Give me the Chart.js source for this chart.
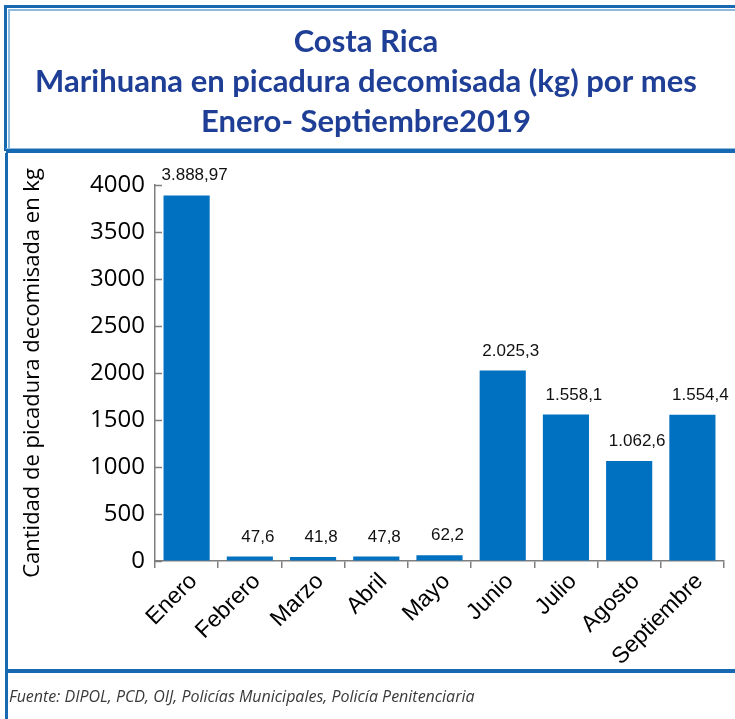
<!DOCTYPE html>
<html>
<head>
<meta charset="utf-8">
<script src="https://cdn.jsdelivr.net/npm/chart.js@4/dist/chart.umd.min.js"></script>
<style>
  html, body { margin: 0; padding: 0; background: #fff; }
  #wrap { width: 735px; height: 719px; }
</style>
</head>
<body>
<div id="wrap"><canvas id="grafico" width="735" height="719"></canvas></div>
<script>
// Datos del grafico
const meses = ['Enero', 'Febrero', 'Marzo', 'Abril', 'Mayo', 'Junio', 'Julio', 'Agosto', 'Septiembre'];
const kilos = [3888.97, 47.6, 41.8, 47.8, 62.2, 2025.3, 1558.1, 1062.6, 1554.4];
const yMin = 0;
const yMax = 4000;
const yPaso = 500;

const titulo = ['Costa Rica', 'Marihuana en picadura decomisada (kg) por mes', 'Enero- Septiembre2019'];
const tituloEjeY = 'Cantidad de picadura decomisada en kg';
const fuente = 'Fuente: DIPOL, PCD, OIJ, Policías Municipales, Policía Penitenciaria';

const azulOscuro = '#1769b1';
const azulClaro = '#8dbbe0';

// 3888.97 -> "3.888,97"
function formato(v) {
    const partes = String(v).split('.');
    const entero = partes[0].replace(/\B(?=(\d{3})+(?!\d))/g, '.');
    return partes.length > 1 ? entero + ',' + partes[1] : entero;
}

// marco azul alrededor del titulo y del grafico
const marco = {
    id: 'marco',
    beforeDraw(chart) {
        const ctx = chart.ctx;
        const w = chart.width, h = chart.height;
        ctx.save();
        ctx.fillStyle = '#fff';
        ctx.fillRect(0, 0, w, h);
        // caja del titulo
        ctx.fillStyle = azulOscuro;
        ctx.fillRect(4, 5, w - 4, 3);
        ctx.fillRect(4, 5, 3, 146);
        ctx.fillStyle = azulClaro;
        ctx.fillRect(8, 9, w - 8, 2);
        ctx.fillRect(8, 9, 2, 139);
        ctx.fillRect(6, 148, w - 6, 1);
        ctx.fillStyle = azulOscuro;
        ctx.fillRect(6, 149, w - 6, 4);
        // linea izquierda y separador de la fuente
        ctx.fillRect(5, 153, 3, h - 153);
        ctx.fillRect(5, 669, w - 5, 4);
        ctx.restore();
    }
};

// marcas del eje Y hacia adentro, etiquetas de valor y fuente
const extras = {
    id: 'extras',
    afterDatasetsDraw(chart) {
        const ctx = chart.ctx;
        const meta = chart.getDatasetMeta(0);
        ctx.save();
        ctx.font = '17px "Liberation Sans", Arial, sans-serif';
        ctx.fillStyle = '#111';
        ctx.textAlign = 'center';
        ctx.textBaseline = 'alphabetic';
        meta.data.forEach((bar, i) => {
            ctx.fillText(formato(kilos[i]), bar.x + 8, bar.y - 15);
        });
        ctx.restore();
    },
    afterDraw(chart) {
        const ctx = chart.ctx;
        const y = chart.scales.y;
        ctx.save();
        ctx.strokeStyle = '#7f7f7f';
        ctx.lineWidth = 1.5;
        y.ticks.forEach(t => {
            const py = Math.round(y.getPixelForValue(t.value)) + 0.5;
            ctx.beginPath();
            ctx.moveTo(y.right, py);
            ctx.lineTo(y.right + 7, py);
            ctx.stroke();
        });
        ctx.font = 'italic 16px "Open Sans", sans-serif';
        ctx.fillStyle = '#3a3a3a';
        ctx.textAlign = 'left';
        ctx.textBaseline = 'middle';
        ctx.fillText(fuente, 9, 697);
        ctx.restore();
    }
};

new Chart(document.getElementById('grafico'), {
    type: 'bar',
    data: {
        labels: meses,
        datasets: [{
            data: kilos,
            backgroundColor: '#0070c0',
            borderWidth: 0,
            barPercentage: 0.73,
            categoryPercentage: 1
        }]
    },
    options: {
        responsive: false,
        animation: false,
        layout: { padding: { left: 8, right: 11, top: 0, bottom: 0 } },
        plugins: {
            legend: { display: false },
            tooltip: { enabled: false },
            title: {
                display: true,
                text: titulo,
                color: '#1f3f96',
                font: { family: 'Lato', size: 31, weight: 'bold', lineHeight: 1.29 },
                padding: { top: 22, bottom: 43 }
            }
        },
        scales: {
            x: {
                grid: { display: true, drawOnChartArea: false, drawTicks: true, tickLength: 7, color: '#7f7f7f', lineWidth: 1.5, offset: true },
                border: { color: '#7f7f7f', width: 1.5 },
                ticks: {
                    color: '#000',
                    font: { family: '"Liberation Sans", Arial, sans-serif', size: 23 },
                    minRotation: 45,
                    maxRotation: 45,
                    labelOffset: 7,
                    padding: 0
                },
                afterFit(scale) { scale.height = 158; }
            },
            y: {
                min: yMin,
                max: yMax,
                grid: { display: true, drawOnChartArea: false, drawTicks: false },
                border: { color: '#7f7f7f', width: 1.5 },
                ticks: {
                    stepSize: yPaso,
                    color: '#000',
                    padding: 10,
                    font: { family: '"Open Sans", sans-serif', size: 24 },
                    callback: v => String(v)
                },
                title: {
                    display: true,
                    text: tituloEjeY,
                    color: '#000',
                    font: { family: '"Open Sans", sans-serif', size: 22 },
                    padding: { top: 12, bottom: 0 }
                },
                afterFit(scale) { scale.width = 147; }
            }
        }
    },
    plugins: [marco, extras]
});
</script>
</body>
</html>
